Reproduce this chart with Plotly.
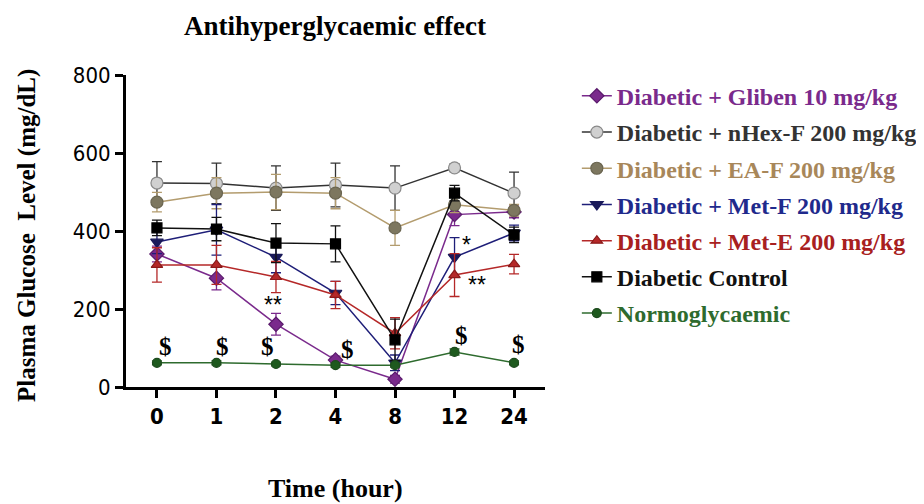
import plotly.graph_objects as go

times = ["0", "1", "2", "4", "8", "12", "24"]

series_names = [
    "Diabetic + Gliben 10 mg/kg",
    "Diabetic + nHex-F 200 mg/kg",
    "Diabetic + EA-F 200 mg/kg",
    "Diabetic + Met-F 200 mg/kg",
    "Diabetic + Met-E 200 mg/kg",
    "Diabetic Control",
    "Normoglycaemic",
]

gliben = [341, 279, 161, 69, 20, 442, 449]
gliben_err = [20, 30, 28, 10, 10, 28, 15]
nhex = [523, 522, 510, 518, 510, 562, 497]
nhex_err = [55, 52, 57, 56, 57, 10, 54]
eaf = [474, 497, 500, 497, 408, 467, 453]
eaf_err = [25, 40, 45, 40, 45, 20, 15]
metf = [372, 403, 333, 241, 62, 333, 395]
metf_err = [30, 65, 40, 30, 20, 50, 20]
mete = [313, 313, 282, 236, 138, 287, 315]
mete_err = [44, 50, 40, 35, 40, 55, 25]
control = [408, 405, 369, 367, 121, 497, 390]
control_err = [20, 30, 50, 46, 53, 20, 20]
normo = [62, 62, 59, 56, 56, 90, 62]
normo_err = [5, 5, 5, 5, 5, 8, 5]

dollar_x = ["0", "1", "2", "4", "12", "24"]
dollar_y = [103, 103, 103, 95, 133, 110]
dollar_shift = [9, 6, -8, 12, 7, 4]

star_x = ["2", "12", "12"]
star_y = [210, 364, 262]
star_text = ["**", "*", "**"]
star_shift = [-3, 12, 22]

styles = [
    dict(y=gliben, e=gliben_err, line="#7a2a8c", mfill="#7a2a8c", mline="#5a1a6c", sym="diamond", size=11, text="#7a2a8c"),
    dict(y=nhex, e=nhex_err, line="#333333", mfill="#d0d0d0", mline="#8a8a8a", sym="circle", size=12, text="#333333"),
    dict(y=eaf, e=eaf_err, line="#b39c6e", mfill="#7d775f", mline="#6a6550", sym="circle", size=12, text="#a8875a"),
    dict(y=metf, e=metf_err, line="#1e1e78", mfill="#1a1a5a", mline="#1a1a5a", sym="triangle-down", size=11, text="#1f2a8c"),
    dict(y=mete, e=mete_err, line="#b52828", mfill="#b52828", mline="#8a1a1a", sym="triangle-up", size=10, text="#a82020"),
    dict(y=control, e=control_err, line="#111111", mfill="#000000", mline="#000000", sym="square", size=10, text="#111111"),
    dict(y=normo, e=normo_err, line="#2e6b2e", mfill="#1e5a1e", mline="#1e4a1e", sym="circle", size=9, text="#2e6b2e"),
]

fig = go.Figure()
for i, (name, s) in enumerate(zip(series_names, styles)):
    fig.add_trace(go.Scatter(
        x=times, y=s["y"], mode="lines+markers",
        name=f"<b><span style='color:{s['text']}'>{name}</span></b>",
        legendgroup=f"g{i}",
        line=dict(color=s["line"], width=1.5),
        marker=dict(symbol=s["sym"], size=s["size"], color=s["mfill"],
                    line=dict(color=s["mline"], width=1.2)),
        error_y=dict(type="data", array=s["e"], visible=True,
                     color=s["line"], thickness=1.3, width=5),
    ))

annotations = []
for x, y, sh in zip(dollar_x, dollar_y, dollar_shift):
    annotations.append(dict(x=times.index(x), y=y, xref="x", yref="y", text="<b>$</b>", showarrow=False,
                            xshift=sh, font=dict(family="Liberation Serif", size=25, color="black")))
for x, y, t, sh in zip(star_x, star_y, star_text, star_shift):
    annotations.append(dict(x=times.index(x), y=y, xref="x", yref="y", text=t, showarrow=False,
                            xshift=sh, font=dict(family="Liberation Sans", size=23, color="black")))

# axis titles as paper annotations
annotations.append(dict(x=(335 - 118 - 8) / 419, y=(379 - 480) / 312, xref="paper", yref="paper",
                        xanchor="center", yanchor="middle",
                        text="<b>Time (hour)</b>", showarrow=False,
                        font=dict(family="Liberation Serif", size=26, color="black")))
annotations.append(dict(x=(19 - 118) / 419, y=(379 - 228) / 312, xref="paper", yref="paper",
                        xanchor="center", yanchor="middle",
                        text="<b>Plasma Glucose  Level (mg/dL)</b>", showarrow=False, textangle=-90,
                        font=dict(family="Liberation Serif", size=25, color="black")))

tick_font = dict(family="Liberation Sans Narrow, DejaVu Sans Condensed, Arial Narrow, sans-serif",
                 size=22, color="black")

fig.update_layout(
    width=924, height=504,
    margin=dict(l=118, r=387, t=67, b=125, autoexpand=False),
    paper_bgcolor="white", plot_bgcolor="white",
    title=dict(text="<b>Antihyperglycaemic effect</b>", x=(335 - 8) / 924, xanchor="center",
               y=1 - 18 / 504, yanchor="middle",
               font=dict(family="Liberation Serif", size=27, color="black")),
    showlegend=True,
    legend=dict(x=1.076, y=1.004, xanchor="left", yanchor="top", maxheight=480,
                font=dict(family="Liberation Serif", size=24, color="black"),
                tracegroupgap=2, bgcolor="rgba(0,0,0,0)", itemwidth=30),
    annotations=annotations,
    xaxis=dict(type="category", categoryorder="array", categoryarray=times,
               range=[-0.52, 6.52], showgrid=False, zeroline=False,
               showline=True, linecolor="black", linewidth=3,
               ticks="outside", ticklen=8, tickwidth=2.5, tickcolor="black",
               tickprefix="<b>", ticksuffix="</b>", tickfont=tick_font),
    yaxis=dict(range=[0, 800], tickvals=[0, 200, 400, 600, 800], showgrid=False, zeroline=False,
               showline=True, linecolor="black", linewidth=3,
               ticks="outside", ticklen=8, tickwidth=2.5, tickcolor="black",
               tickfont=tick_font, tickprefix="<b>", ticksuffix="</b>"),
)

fig.write_html("out.html")
